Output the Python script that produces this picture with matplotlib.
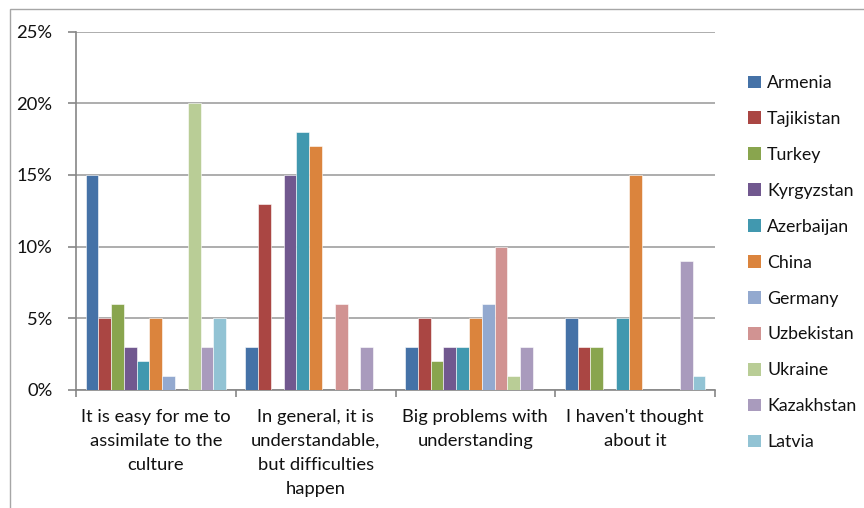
import matplotlib
matplotlib.use("Agg")
import matplotlib.pyplot as plt
from matplotlib.patches import Rectangle, Patch
import numpy as np

plt.rcParams['font.family'] = ['Lato', 'DejaVu Sans']

categories = ["It is easy for me to\nassimilate to the\nculture",
              "In general, it is\nunderstandable,\nbut difficulties\nhappen",
              "Big problems with\nunderstanding",
              "I haven't thought\nabout it"]
countries = ["Armenia", "Tajikistan", "Turkey", "Kyrgyzstan", "Azerbaijan", "China",
             "Germany", "Uzbekistan", "Ukraine", "Kazakhstan", "Latvia"]
values = {
    "Armenia":    [15, 3, 3, 5],
    "Tajikistan": [5, 13, 5, 3],
    "Turkey":     [6, 0, 2, 3],
    "Kyrgyzstan": [3, 15, 3, 0],
    "Azerbaijan": [2, 18, 3, 5],
    "China":      [5, 17, 5, 15],
    "Germany":    [1, 0, 6, 0],
    "Uzbekistan": [0, 6, 10, 0],
    "Ukraine":    [20, 0, 1, 0],
    "Kazakhstan": [3, 3, 3, 9],
    "Latvia":     [5, 0, 0, 1],
}
colors = ["#4572A7", "#AA4643", "#89A54E", "#71588F", "#4198AF", "#DB843D",
          "#93A9CF", "#D19392", "#B9CD96", "#A99BBD", "#92C3D4"]
yticks = [0, 5, 10, 15, 20, 25]

W, H = 864, 508
FS = 13.2
fig = plt.figure(figsize=(W/100, H/100), dpi=100)
fig.patches.append(Rectangle((10/W, -0.1), 2, (508-9)/H + 0.1, transform=fig.transFigure,
                             fill=False, edgecolor="#a6a6a6", linewidth=1.0))
ax = fig.add_axes([76/W, (H-390)/H, 639/W, (390-31.5)/H])

n = len(countries)
w = 1/(n + 1.5)
x = np.arange(len(categories))
for i, c in enumerate(countries):
    ax.bar(x + (i - (n-1)/2)*w, values[c], width=w, color=colors[i],
           edgecolor="white", linewidth=0.4, zorder=3)

ax.set_xlim(-0.5, len(categories) - 0.5)
ax.set_ylim(0, 25)
ax.set_yticks(yticks)
ax.set_yticklabels([f"{t}%" for t in yticks], fontsize=FS, color="#111111")
ax.yaxis.grid(True, color="#a0a0a0", linewidth=1.2, zorder=0)
ax.set_xticks(x)
ax.set_xticklabels(categories, fontsize=FS, color="#111111")
for lbl in ax.get_xticklabels():
    lbl.set_linespacing(1.62)
ax.set_xticks(np.arange(-0.5, len(categories)), minor=True)
ax.tick_params(axis='x', which='major', length=0, pad=13.5)
ax.tick_params(axis='x', which='minor', length=5, color="#868686", width=1.2)
ax.tick_params(axis='y', length=6, color="#868686", width=1.2, pad=11)
for s in ["top", "right"]:
    ax.spines[s].set_visible(False)
for s in ["left", "bottom"]:
    ax.spines[s].set_color("#868686")
    ax.spines[s].set_linewidth(1.2)
ax.set_axisbelow(True)

handles = [Patch(facecolor=colors[i], edgecolor="none") for i in range(n)]
leg = fig.legend(handles, countries, loc="upper left", bbox_to_anchor=(741/W, 1 - 68/H),
                 frameon=False, fontsize=12.8, handlelength=0.72, handleheight=0.72,
                 handletextpad=0.35, labelspacing=1.12, borderaxespad=0,
                 labelcolor="#111111")

fig.savefig("out.png", dpi=100)
